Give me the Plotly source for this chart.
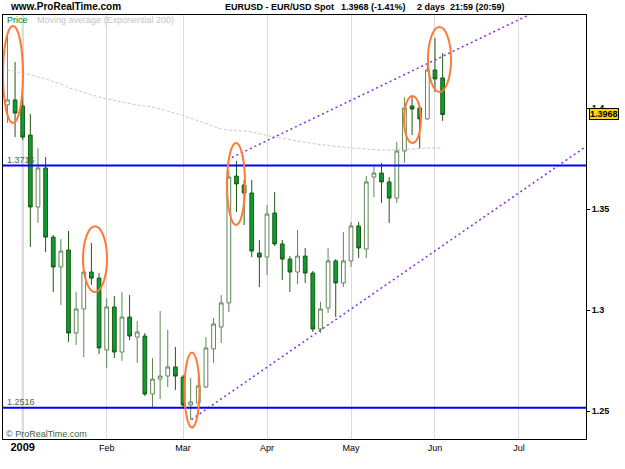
import plotly.graph_objects as go

# ---- data (2-day candles, EUR/USD, late Dec 2008 - early Jun 2009) ----
idx = list(range(58))
opens = [1.4015, 1.4040, 1.4010, 1.3866, 1.3510, 1.3703, 1.3361, 1.3213, 1.3297, 1.2886,
         1.3005, 1.3188, 1.3158, 1.2802, 1.3015, 1.2792, 1.2965, 1.2866, 1.2871, 1.2584,
         1.2658, 1.2673, 1.2718, 1.2668, 1.2530, 1.2540, 1.2619, 1.2807, 1.2916, 1.3035,
         1.3663, 1.3619, 1.3579, 1.3282, 1.3262, 1.3480, 1.3327, 1.3252, 1.3188, 1.3267,
         1.3183, 1.2906, 1.3010, 1.3243, 1.3134, 1.3243, 1.3416, 1.3302, 1.3658, 1.3678,
         1.3634, 1.3554, 1.3787, 1.4010, 1.4000, 1.3946, 1.4188, 1.4149]
highs = [1.4371, 1.4228, 1.4059, 1.3970, 1.3802, 1.3757, 1.3371, 1.3351, 1.3391, 1.3089,
         1.3198, 1.3332, 1.3183, 1.3059, 1.3069, 1.3089, 1.3074, 1.2946, 1.2886, 1.2762,
         1.2995, 1.2901, 1.2817, 1.2678, 1.2663, 1.2668, 1.2866, 1.2960, 1.3074, 1.3690,
         1.3738, 1.3644, 1.3644, 1.3347, 1.3520, 1.3584, 1.3347, 1.3267, 1.3396, 1.3307,
         1.3193, 1.3040, 1.3307, 1.3252, 1.3386, 1.3436, 1.3436, 1.3663, 1.3708, 1.3728,
         1.3658, 1.3832, 1.4054, 1.4054, 1.4010, 1.4223, 1.4347, 1.4272]
lows = [1.3926, 1.3856, 1.3842, 1.3312, 1.3431, 1.3287, 1.3089, 1.3025, 1.2842, 1.2827,
        1.2767, 1.3124, 1.2782, 1.2713, 1.2762, 1.2748, 1.2851, 1.2738, 1.2574, 1.2520,
        1.2559, 1.2619, 1.2604, 1.2515, 1.2455, 1.2505, 1.2614, 1.2738, 1.2837, 1.2990,
        1.3485, 1.3421, 1.3262, 1.3114, 1.3173, 1.3317, 1.3149, 1.3089, 1.3129, 1.3134,
        1.2891, 1.2886, 1.2985, 1.2965, 1.3114, 1.3213, 1.3257, 1.3257, 1.3559, 1.3530,
        1.3431, 1.3530, 1.3728, 1.3866, 1.3802, 1.3941, 1.4079, 1.3936]
closes = [1.4040, 1.3975, 1.3856, 1.3510, 1.3703, 1.3361, 1.3213, 1.3292, 1.2886, 1.3005,
          1.3188, 1.3158, 1.2812, 1.3015, 1.2792, 1.2965, 1.2871, 1.2891, 1.2584, 1.2658,
          1.2673, 1.2718, 1.2673, 1.2530, 1.2545, 1.2624, 1.2812, 1.2931, 1.3035, 1.3658,
          1.3624, 1.3579, 1.3292, 1.3262, 1.3475, 1.3327, 1.3252, 1.3188, 1.3267, 1.3183,
          1.2906, 1.3005, 1.3243, 1.3134, 1.3243, 1.3416, 1.3307, 1.3634, 1.3678, 1.3634,
          1.3554, 1.3787, 1.4000, 1.3995, 1.3946, 1.4188, 1.4144, 1.3968]
ema200 = [1.4188, 1.4181, 1.4173, 1.4166, 1.4153, 1.4144, 1.4131, 1.4119, 1.4101, 1.4089,
          1.4077, 1.4064, 1.4054, 1.4045, 1.4037, 1.4030, 1.4022, 1.4015, 1.4010, 1.4005,
          1.3995, 1.3985, 1.3973, 1.3963, 1.3950, 1.3938, 1.3923, 1.3908, 1.3896, 1.3891,
          1.3889, 1.3886, 1.3881, 1.3874, 1.3864, 1.3856, 1.3851, 1.3844, 1.3837, 1.3829,
          1.3824, 1.3819, 1.3814, 1.3809, 1.3804, 1.3802, 1.3800, 1.3797, 1.3795, 1.3792,
          1.3792, 1.3792, 1.3795, 1.3797, 1.3800, 1.3802, 1.3802, 1.3804]

month_pos = [2, 13, 23, 34, 45, 56, 67]
month_labels = ["2009", "Feb", "Mar", "Apr", "May", "Jun", "Jul"]
ytick_vals = [1.25, 1.30, 1.35, 1.40]

levels = [1.3715, 1.2516]
level_labels = ["1.3715", "1.2516"]

upper_trend_x = [29.4, 80]
upper_trend_y = [1.3755, 1.4673]
lower_trend_x = [24.1, 80]
lower_trend_y = [1.2458, 1.3920]

# ellipse markers: centre index, centre price, half-width (candles), half-height (price)
ell_ci = [0.73, 11.47, 24.17, 29.94, 53.05, 56.59]
ell_cp = [1.4166, 1.3252, 1.2604, 1.3624, 1.3943, 1.4240]
ell_hw = [1.31, 1.57, 0.98, 1.18, 1.11, 1.51]
ell_hh = [0.0240, 0.0163, 0.0186, 0.0203, 0.0116, 0.0161]

last_price = 1.3968

FONT = "Liberation Sans, Arial, sans-serif"

fig = go.Figure()

fig.add_trace(go.Scatter(x=idx, y=ema200, mode="lines",
                         line=dict(color="#c8c8c8", width=1, dash="3px,2px"),
                         hoverinfo="skip", showlegend=False))

fig.add_trace(go.Candlestick(
    x=idx, open=opens, high=highs, low=lows, close=closes,
    increasing=dict(line=dict(color="#5e8756", width=1), fillcolor="#ffffff"),
    decreasing=dict(line=dict(color="#1f5a14", width=1), fillcolor="#0c9c34"),
    whiskerwidth=0, showlegend=False))

fig.add_trace(go.Scatter(x=upper_trend_x, y=upper_trend_y, mode="lines",
                         line=dict(color="#8a2be2", width=1.5, dash="2px,3px"),
                         hoverinfo="skip", showlegend=False))
fig.add_trace(go.Scatter(x=lower_trend_x, y=lower_trend_y, mode="lines",
                         line=dict(color="#8a2be2", width=1.5, dash="2px,3px"),
                         hoverinfo="skip", showlegend=False))

shapes = []
# year-start grid line is heavier in the original
shapes.append(dict(type="line", xref="x", x0=month_pos[0], x1=month_pos[0], yref="paper", y0=0, y1=1,
                   line=dict(color="#d0d0d0", width=2), layer="below"))
for lv in levels:
    shapes.append(dict(type="line", xref="paper", x0=0, x1=1, yref="y", y0=lv, y1=lv,
                       line=dict(color="#0000ff", width=2)))
for ci, cp, hw, hh in zip(ell_ci, ell_cp, ell_hw, ell_hh):
    shapes.append(dict(type="circle", xref="x", yref="y",
                       x0=ci - hw, x1=ci + hw, y0=cp - hh, y1=cp + hh,
                       line=dict(color="#ff7a33", width=2)))

annotations = []
for lv, lab in zip(levels, level_labels):
    annotations.append(dict(text=lab, xref="paper", x=0.003, xanchor="left",
                            yref="y", y=lv, yanchor="bottom", yshift=-1, showarrow=False,
                            font=dict(family=FONT, size=9, color="#4a6a40")))
annotations += [
    dict(text="<b>www.ProRealTime.com</b>", xref="paper", yref="paper", x=0.0086, y=1.019,
         xanchor="left", yanchor="middle", showarrow=False,
         font=dict(family=FONT, size=10, color="#000000")),
    dict(text="<b>EURUSD - EUR/USD Spot</b>", xref="paper", yref="paper", x=(223 - 3) / 583, y=1.019,
         xanchor="left", yanchor="middle", showarrow=False,
         font=dict(family=FONT, size=9, color="#000000")),
    dict(text="<b>1.3968 (-1.41%)</b>", xref="paper", yref="paper", x=(339 - 3) / 583, y=1.019,
         xanchor="left", yanchor="middle", showarrow=False,
         font=dict(family=FONT, size=9, color="#000000")),
    dict(text="<b>2 days\u00a0\u00a021:59 (20:59)</b>", xref="paper", yref="paper", x=(415 - 3) / 583, y=1.019,
         xanchor="left", yanchor="middle", showarrow=False,
         font=dict(family=FONT, size=9, color="#000000")),
    dict(text="Price", xref="paper", yref="paper", x=(5 - 3) / 583, y=(439 - 20) / 424,
         xanchor="left", yanchor="middle", showarrow=False,
         font=dict(family=FONT, size=9, color="#007a00")),
    dict(text="Moving average (Exponential 200)", xref="paper", yref="paper", x=(35 - 3) / 583,
         y=(439 - 20) / 424, xanchor="left", yanchor="middle", showarrow=False,
         font=dict(family=FONT, size=9, color="#c4c4c4")),
    dict(text="© ProRealTime.com", xref="paper", yref="paper", x=(4 - 3) / 583, y=(439 - 434) / 424,
         xanchor="left", yanchor="middle", showarrow=False,
         font=dict(family=FONT, size=9, color="#3f5f36")),
    dict(text="<b>%.4f</b>" % last_price, xref="paper", x=1.0, xshift=3, xanchor="left",
         yref="y", y=last_price, yanchor="middle", showarrow=False,
         bgcolor="#ffd200", bordercolor="#000000", borderwidth=1, borderpad=0,
         font=dict(family=FONT, size=9, color="#000000")),
]

ticktext = ["<b><span style='font-size:11px'>%s</span></b>" % month_labels[0]] + month_labels[1:]

fig.update_layout(
    width=625, height=469,
    margin=dict(l=3, r=39, t=15, b=30),
    paper_bgcolor="#ffffff", plot_bgcolor="#ffffff",
    showlegend=False,
    shapes=shapes, annotations=annotations,
    font=dict(family=FONT, size=9, color="#000000"),
    xaxis=dict(range=[-0.58, 75.78], tickvals=month_pos, ticktext=ticktext,
               showgrid=True, gridcolor="#dcdcdc", gridwidth=1, zeroline=False,
               showline=True, linecolor="#000000", linewidth=1, mirror=True,
               ticks="", rangeslider=dict(visible=False),
               tickfont=dict(family=FONT, size=9, color="#000000")),
    yaxis=dict(range=[1.23614, 1.44604], side="right", tickvals=ytick_vals,
               showgrid=False, zeroline=False,
               showline=True, linecolor="#000000", linewidth=1, mirror=True,
               ticks="outside", ticklen=3, tickcolor="#000000",
               tickfont=dict(family=FONT, size=9, color="#000000", weight="bold")),
)

fig.write_html("out.html")
